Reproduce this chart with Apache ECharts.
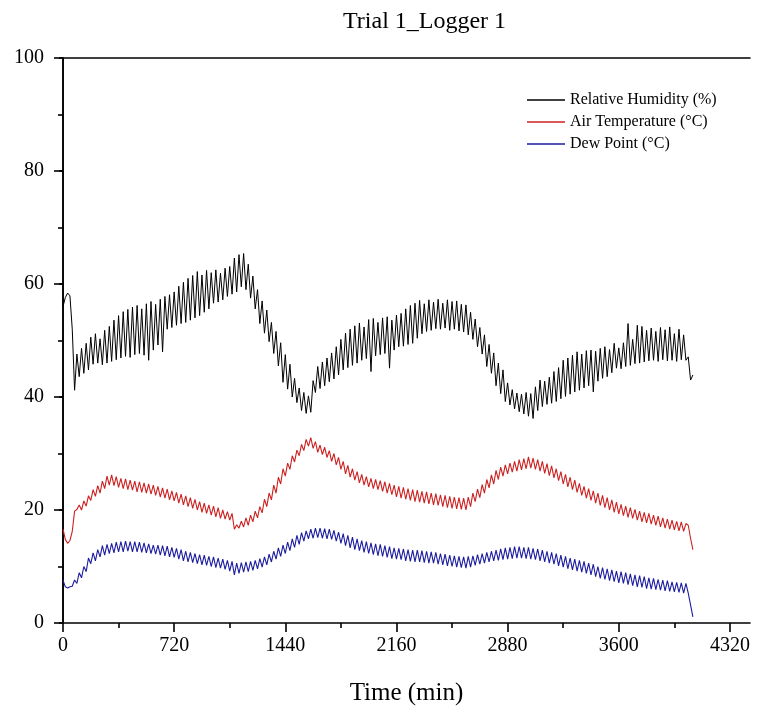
<!DOCTYPE html>
<html>
<head>
<meta charset="utf-8">
<script src="https://cdn.jsdelivr.net/npm/echarts@6/dist/echarts.min.js"></script>
<style>
html,body{margin:0;padding:0;background:#fff;}
#chart{width:759px;height:715px;}
</style>
</head>
<body>
<div id="chart"></div>
<script>
// ---- data ----
const titleText = 'Trial 1_Logger 1';
const seriesNames = ['Relative Humidity (%)', 'Air Temperature (\u00B0C)', 'Dew Point (\u00B0C)'];
const xMajorTicks = [0, 720, 1440, 2160, 2880, 3600, 4320];
const xMinorTicks = [360, 1080, 1800, 2520, 3240, 3960];
const yTicks = [0, 20, 40, 60, 80, 100];
const loggingIntervalMin = 15; // logger sampling interval (minutes)

const relHumidity = [
56.0,57.6,58.4,57.9,52.0,41.2,47.6,43.6,48.6,44.2,49.5,44.8,50.6,45.8,51.2,46.0,50.3,45.7,51.8,46.0,
52.5,46.3,53.6,46.6,54.4,46.9,55.1,47.2,55.5,47.0,55.9,47.5,56.2,47.7,55.6,47.4,56.5,46.5,56.9,48.3,
56.4,49.2,57.3,48.0,57.8,52.0,58.1,52.3,58.6,52.7,59.6,53.0,60.3,53.2,61.0,53.6,61.5,54.0,62.2,54.4,
61.6,55.0,62.4,55.6,62.0,56.6,62.5,56.8,61.9,57.2,62.8,57.8,63.1,58.2,64.6,58.6,65.2,59.5,65.4,59.0,
63.5,57.5,61.4,55.6,59.0,53.0,57.0,51.3,55.4,49.8,53.2,47.7,51.6,45.5,49.6,42.6,47.5,41.4,45.8,40.0,
43.3,39.0,41.6,37.6,40.8,37.1,40.2,37.3,42.9,40.8,45.4,41.5,46.2,42.0,46.9,42.7,47.8,43.2,48.9,43.9,
50.2,44.8,51.3,45.2,52.0,45.6,52.6,46.0,53.1,46.5,52.4,46.8,53.7,44.5,53.9,47.3,53.2,47.5,54.0,47.7,
54.2,45.1,53.6,48.3,54.5,48.9,54.8,49.0,55.6,49.3,56.2,49.5,56.6,50.4,57.1,51.2,56.5,51.6,57.2,51.8,
56.8,52.1,57.3,52.0,56.6,52.2,57.2,51.8,56.9,52.0,57.0,51.7,56.4,51.5,56.3,51.0,55.0,50.2,53.8,48.9,
52.3,47.6,51.0,45.4,49.3,44.2,47.8,42.0,46.0,40.6,44.8,39.2,42.5,38.6,41.3,37.9,40.7,37.4,40.5,37.0,
40.8,36.6,40.6,36.2,41.8,37.6,43.0,38.3,42.8,38.7,43.5,38.9,44.5,39.2,45.2,39.7,46.5,40.1,46.9,40.5,
47.4,40.9,48.0,41.2,47.6,41.6,48.2,42.0,48.3,40.9,48.1,42.8,48.6,43.3,48.9,43.6,48.4,44.3,49.5,45.1,
48.7,45.0,49.6,45.4,53.0,45.6,50.2,45.9,52.7,46.0,52.5,46.2,51.8,46.4,52.2,46.5,51.6,46.3,52.3,46.6,
51.9,46.4,52.4,46.5,51.2,46.3,52.0,46.6,51.0,46.5,47.1,43.0,43.9
];

const airTemp = [
16.6,14.8,14.1,14.6,16.2,19.8,20.1,20.9,20.0,21.6,20.7,22.5,21.7,23.6,22.4,24.3,23.0,25.1,23.8,26.0,
24.4,26.2,24.3,25.9,24.0,25.6,23.8,25.5,23.6,25.3,23.5,25.1,23.2,25.0,23.1,24.8,23.0,24.6,22.8,24.4,
22.6,24.2,22.3,23.9,22.1,23.7,21.8,23.4,21.6,23.1,21.2,22.8,20.9,22.5,20.6,22.2,20.3,21.9,20.0,21.5,
19.6,21.2,19.4,20.9,19.1,20.7,18.8,20.4,18.5,20.0,18.4,19.7,18.2,19.4,16.6,17.4,16.8,18.0,17.0,18.6,
17.3,19.1,17.9,19.8,18.6,20.6,19.5,21.9,20.6,23.0,21.8,24.4,23.0,25.8,24.6,27.3,26.0,28.3,27.2,29.6,
28.5,30.6,29.6,31.6,30.5,32.5,31.3,32.8,30.9,32.1,30.2,31.5,29.8,31.1,29.3,30.5,28.6,30.0,28.0,29.3,
27.2,28.6,26.4,27.9,25.8,27.3,25.3,26.8,24.8,26.3,24.4,25.9,24.1,25.6,23.8,25.4,23.6,25.2,23.3,25.0,
23.0,24.7,22.7,24.4,22.3,24.2,22.1,24.0,21.9,23.8,21.7,23.6,21.5,23.5,21.4,23.3,21.2,23.2,21.1,23.0,
20.9,22.9,20.8,22.7,20.6,22.6,20.4,22.4,20.3,22.3,20.2,22.2,20.1,22.1,20.0,22.3,20.6,23.0,21.5,23.7,
22.2,24.5,23.0,25.4,23.9,26.2,24.6,27.0,25.4,27.6,26.0,28.0,26.4,28.3,26.7,28.6,26.9,28.9,27.1,29.1,
27.3,29.4,27.4,29.2,27.2,28.9,26.9,28.6,26.5,28.2,26.1,27.8,25.7,27.3,25.2,26.8,24.6,26.3,24.1,25.8,
23.6,25.3,23.1,24.7,22.6,24.2,22.1,23.8,21.7,23.4,21.2,23.0,20.8,22.6,20.4,22.2,20.0,21.8,19.6,21.4,
19.3,21.0,19.0,20.7,18.7,20.4,18.5,20.1,18.2,19.8,17.9,19.6,17.7,19.4,17.5,19.1,17.3,18.9,17.0,18.6,
16.8,18.4,16.6,18.2,16.5,18.0,16.3,17.9,16.2,17.6,17.3,15.0,13.0
];

const dewPoint = [
7.6,6.4,6.2,6.4,6.5,7.6,7.0,8.9,8.0,10.0,9.1,11.5,10.5,12.4,11.0,13.0,11.7,13.7,12.0,13.9,
12.3,14.1,12.4,14.3,12.6,14.4,12.6,14.5,12.7,14.4,12.6,14.4,12.6,14.3,12.5,14.2,12.4,14.0,12.3,13.8,
12.2,13.8,12.0,13.7,11.9,13.6,11.7,13.4,11.6,13.2,11.3,13.0,11.0,12.7,10.8,12.5,10.7,12.3,10.5,12.1,
10.3,12.0,10.2,11.8,10.0,11.7,9.8,11.5,9.7,11.3,9.5,11.1,9.2,10.9,8.5,10.6,8.8,10.7,9.0,10.8,
9.1,10.9,9.3,11.1,9.6,11.4,9.9,11.7,10.3,12.2,10.8,12.7,11.3,13.3,11.8,13.8,12.3,14.3,12.8,14.9,
13.4,15.5,13.9,16.0,14.5,16.3,14.9,16.6,15.0,16.8,15.1,16.8,15.0,16.7,14.9,16.6,14.8,16.4,14.5,16.1,
14.1,15.8,13.7,15.5,13.3,15.2,13.0,14.9,12.8,14.6,12.5,14.4,12.3,14.2,12.1,14.0,11.9,13.9,11.8,13.7,
11.6,13.5,11.4,13.3,11.3,13.2,11.2,13.1,11.0,13.0,10.9,12.9,10.8,12.9,10.8,12.8,10.7,12.7,10.6,12.6,
10.6,12.5,10.4,12.3,10.3,12.2,10.1,12.0,10.0,11.9,9.9,11.8,9.8,11.7,9.7,11.8,9.9,11.9,10.2,12.1,
10.4,12.3,10.6,12.5,10.8,12.7,11.0,12.9,11.1,13.1,11.2,13.3,11.3,13.4,11.4,13.5,11.5,13.5,11.5,13.4,
11.4,13.4,11.3,13.2,11.2,13.1,11.0,12.9,10.8,12.7,10.6,12.5,10.4,12.3,10.1,12.0,9.9,11.8,9.6,11.5,
9.4,11.3,9.2,11.1,9.0,10.9,8.8,10.6,8.5,10.4,8.2,10.0,7.9,9.8,7.7,9.6,7.5,9.4,7.3,9.2,
7.1,9.1,7.0,8.9,6.8,8.7,6.6,8.5,6.4,8.4,6.3,8.2,6.1,8.0,6.0,7.9,5.9,7.7,5.8,7.6,
5.7,7.5,5.6,7.3,5.5,7.2,5.4,7.1,5.3,7.0,5.3,3.2,1.1
];

const seriesColors = ['#000000', '#cc2020', '#1c1ca0'];

// ---- chart ----
const timeMin = relHumidity.map((_, i) => i * loggingIntervalMin);
const pairs = arr => arr.map((v, i) => [timeMin[i], v]);
const FONT = '"Liberation Serif", "Times New Roman", serif';
const plain = v => String(v);

const chart = echarts.init(document.getElementById('chart'), null, {renderer: 'canvas'});
const axisLine = {show: true, lineStyle: {color: '#000', width: 1.6}};
chart.setOption({
  animation: false,
  backgroundColor: '#fff',
  title: {
    text: titleText, left: 338, top: 5,
    textStyle: {fontFamily: FONT, fontSize: 24, fontWeight: 'normal', color: '#000'}
  },
  legend: {
    orient: 'vertical', left: 522, top: 87,
    icon: 'rect', itemWidth: 38, itemHeight: 1.5, itemGap: 6,
    data: seriesNames.map((n, i) => ({name: n, itemStyle: {color: seriesColors[i], opacity: 1}})),
    textStyle: {fontFamily: FONT, fontSize: 16, color: '#000', padding: [0, 0, 0, 0]}
  },
  grid: {left: 63, right: 9, top: 58, bottom: 92, containLabel: false},
  xAxis: [
    {
      type: 'value', position: 'bottom', min: 0, max: 4450,
      name: 'Time (min)', nameLocation: 'middle', nameGap: 58,
      nameTextStyle: {fontFamily: FONT, fontSize: 25, color: '#000'},
      axisLine: axisLine,
      axisTick: {show: true, inside: false, length: 9, lineStyle: {color: '#000', width: 1.6}, customValues: xMajorTicks},
      axisLabel: {show: true, margin: 13, fontFamily: FONT, fontSize: 20, color: '#000', customValues: xMajorTicks, formatter: plain},
      splitLine: {show: false}
    },
    {
      type: 'value', position: 'bottom', min: 0, max: 4450,
      axisLine: {show: false},
      axisTick: {show: true, inside: false, length: 5, lineStyle: {color: '#000', width: 1.6}, customValues: xMinorTicks},
      axisLabel: {show: false},
      splitLine: {show: false}
    },
    {
      type: 'value', position: 'top', min: 0, max: 4450,
      axisLine: axisLine, axisTick: {show: false}, axisLabel: {show: false}, splitLine: {show: false}
    }
  ],
  yAxis: [
    {
      type: 'value', position: 'left', min: 0, max: 100, interval: 20,
      axisLine: axisLine,
      axisTick: {show: true, inside: false, length: 9, lineStyle: {color: '#000', width: 1.6}, customValues: yTicks},
      minorTick: {show: true, splitNumber: 2, length: 5, lineStyle: {color: '#000', width: 1.6}},
      axisLabel: {show: true, margin: 19, fontFamily: FONT, fontSize: 20, color: '#000', customValues: yTicks, formatter: plain},
      splitLine: {show: false}, minorSplitLine: {show: false}
    },
    {
      type: 'value', position: 'right', min: 0, max: 100, interval: 20,
      axisLine: axisLine,
      axisTick: {show: true, inside: true, length: 4, lineStyle: {color: '#000', width: 1.6}},
      axisLabel: {show: false}, splitLine: {show: false}
    }
  ],
  series: [
    {name: seriesNames[0], type: 'line', xAxisIndex: 0, yAxisIndex: 0, symbol: 'none', data: pairs(relHumidity),
     lineStyle: {color: seriesColors[0], width: 1}, itemStyle: {color: seriesColors[0]}},
    {name: seriesNames[1], type: 'line', xAxisIndex: 0, yAxisIndex: 0, symbol: 'none', data: pairs(airTemp),
     lineStyle: {color: seriesColors[1], width: 1.1}, itemStyle: {color: seriesColors[1]}},
    {name: seriesNames[2], type: 'line', xAxisIndex: 0, yAxisIndex: 0, symbol: 'none', data: pairs(dewPoint),
     lineStyle: {color: seriesColors[2], width: 1.1}, itemStyle: {color: seriesColors[2]}}
  ]
});
</script>
</body>
</html>
